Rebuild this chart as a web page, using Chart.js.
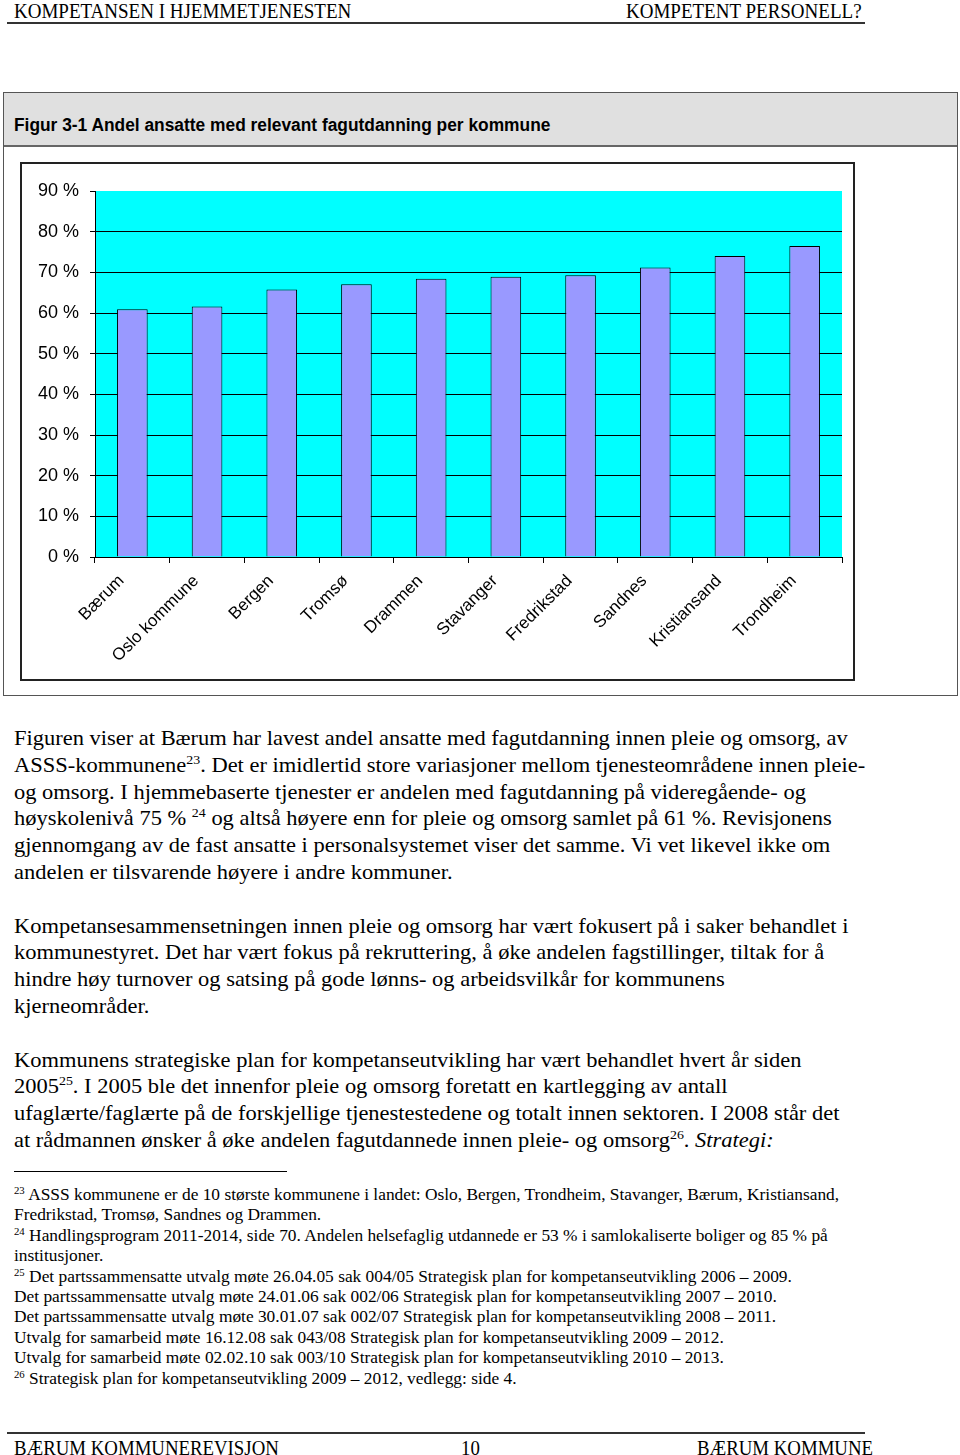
<!DOCTYPE html>
<html>
<head>
<meta charset="utf-8">
<script src="https://cdn.jsdelivr.net/npm/chart.js@4"></script>
<style>
body { margin: 0; width: 960px; height: 1455px; position: relative; overflow: hidden; background: #fff; color: #000; font-family: "Liberation Serif", "Times New Roman", serif; }
.abs { position: absolute; white-space: nowrap; transform-origin: left top; }
.hdr { font-size: 20px; line-height: 20px; }
.rule { position: absolute; left: 7px; width: 858px; height: 2px; background: #333; }
#frame { position: absolute; left: 3px; top: 92px; width: 955px; height: 604px; border: 1px solid #555; box-sizing: border-box; }
#figHead { position: absolute; left: 0; top: 0; right: 0; height: 52px; background: #e0e0e0; border-bottom: 2px solid #666; }
#figTitle { position: absolute; left: 10px; top: 22px; white-space: nowrap; font-family: "Liberation Sans", Arial, sans-serif; font-weight: bold; font-size: 18px; line-height: 20px; transform-origin: left top; transform: scaleX(0.964); }
#chartBox { position: absolute; left: 20px; top: 162px; width: 835px; height: 519px; border: 2px solid #222; box-sizing: border-box; background: #fff; }
#chart { position: absolute; left: 22px; top: 164px; }
.body { font-size: 21.5px; line-height: 26.8px; transform: scaleX(1.045); }
.notes { font-size: 16px; line-height: 20.4px; transform: scaleX(1.085); }
sup { font-size: 62%; line-height: 0; vertical-align: 0; position: relative; top: -0.6em; }
</style>
</head>
<body>

<div class="abs hdr" style="left:14px; top:1px; transform: scaleX(0.95);">KOMPETANSEN I HJEMMETJENESTEN</div>
<div class="abs hdr" style="left:626px; top:1px; transform: scaleX(0.95);">KOMPETENT PERSONELL?</div>
<div class="rule" style="top:22px;"></div>

<div id="frame">
  <div id="figHead"><div id="figTitle">Figur 3-1 Andel ansatte med relevant fagutdanning per kommune</div></div>
</div>
<div id="chartBox"></div>
<canvas id="chart" width="831" height="515"></canvas>

<div class="abs body" style="left:14px; top:725px;">
Figuren viser at Bærum har lavest andel ansatte med fagutdanning innen pleie og omsorg, av<br>
ASSS-kommunene<sup>23</sup>. Det er imidlertid store variasjoner mellom tjenesteområdene innen pleie-<br>
og omsorg. I hjemmebaserte tjenester er andelen med fagutdanning på videregående- og<br>
høyskolenivå 75 % <sup>24</sup> og altså høyere enn for pleie og omsorg samlet på 61 %. Revisjonens<br>
gjennomgang av de fast ansatte i personalsystemet viser det samme. Vi vet likevel ikke om<br>
andelen er tilsvarende høyere i andre kommuner.<br>
<br>
Kompetansesammensetningen innen pleie og omsorg har vært fokusert på i saker behandlet i<br>
kommunestyret. Det har vært fokus på rekruttering, å øke andelen fagstillinger, tiltak for å<br>
hindre høy turnover og satsing på gode lønns- og arbeidsvilkår for kommunens<br>
kjerneområder.<br>
<br>
Kommunens strategiske plan for kompetanseutvikling har vært behandlet hvert år siden<br>
2005<sup>25</sup>. I 2005 ble det innenfor pleie og omsorg foretatt en kartlegging av antall<br>
ufaglærte/faglærte på de forskjellige tjenestestedene og totalt innen sektoren. I 2008 står det<br>
at rådmannen ønsker å øke andelen fagutdannede innen pleie- og omsorg<sup>26</sup>. <i>Strategi:</i>
</div>

<div style="position:absolute; left:14px; top:1171px; width:273px; height:1px; background:#000;"></div>

<div class="abs notes" style="left:14px; top:1185px;">
<sup>23</sup> ASSS kommunene er de 10 største kommunene i landet: Oslo, Bergen, Trondheim, Stavanger, Bærum, Kristiansand,<br>
Fredrikstad, Tromsø, Sandnes og Drammen.<br>
<sup>24</sup> Handlingsprogram 2011-2014, side 70. Andelen helsefaglig utdannede er 53 % i samlokaliserte boliger og 85 % på<br>
institusjoner.<br>
<sup>25</sup> Det partssammensatte utvalg møte 26.04.05 sak 004/05 Strategisk plan for kompetanseutvikling 2006 – 2009.<br>
Det partssammensatte utvalg møte 24.01.06 sak 002/06 Strategisk plan for kompetanseutvikling 2007 – 2010.<br>
Det partssammensatte utvalg møte 30.01.07 sak 002/07 Strategisk plan for kompetanseutvikling 2008 – 2011.<br>
Utvalg for samarbeid møte 16.12.08 sak 043/08 Strategisk plan for kompetanseutvikling 2009 – 2012.<br>
Utvalg for samarbeid møte 02.02.10 sak 003/10 Strategisk plan for kompetanseutvikling 2010 – 2013.<br>
<sup>26</sup> Strategisk plan for kompetanseutvikling 2009 – 2012, vedlegg: side 4.
</div>

<div class="rule" style="top:1432px;"></div>
<div class="abs hdr" style="left:14px; top:1438px; transform: scaleX(0.94);">BÆRUM KOMMUNEREVISJON</div>
<div class="abs hdr" style="left:461px; top:1438px; transform: scaleX(0.94);">10</div>
<div class="abs hdr" style="left:697px; top:1438px; transform: scaleX(0.94);">BÆRUM KOMMUNE</div>

<script>
// data
const kommuner = ["Bærum", "Oslo kommune", "Bergen", "Tromsø", "Drammen", "Stavanger", "Fredrikstad", "Sandnes", "Kristiansand", "Trondheim"];
const andel = [60.9, 61.6, 65.8, 67.1, 68.4, 68.9, 69.3, 71.2, 74.0, 76.5];
const yMin = 0;
const yMax = 90;
const yStep = 10;

const axisFont = { family: "'Liberation Sans', Arial, sans-serif", size: 18 };

// cyan plot area like the Excel original
const plotBackground = {
    id: 'plotBackground',
    beforeDraw(chart) {
        const ctx = chart.ctx;
        const a = chart.chartArea;
        ctx.save();
        ctx.fillStyle = '#00FFFF';
        ctx.fillRect(a.left, a.top, a.right - a.left, a.bottom - a.top);
        ctx.restore();
    }
};

const chartCtx = document.getElementById("chart").getContext('2d');

new Chart(chartCtx, {
    type: 'bar',
    data: {
        labels: kommuner,
        datasets: [{
            data: andel,
            backgroundColor: '#9999FF',
            borderColor: '#000000',
            borderWidth: 1,
            barPercentage: 0.41,
            categoryPercentage: 1.0
        }]
    },
    options: {
        responsive: false,
        devicePixelRatio: 1,
        animation: false,
        layout: { padding: { top: 27, right: 11, left: 0, bottom: 0 } },
        plugins: { legend: { display: false }, tooltip: { enabled: false } },
        scales: {
            x: {
                grid: { offset: true, drawOnChartArea: false, drawTicks: true, tickLength: 6, color: '#000', lineWidth: 1 },
                border: { color: '#000', width: 1 },
                ticks: { color: '#000', font: { family: axisFont.family, size: 17 }, minRotation: 45, maxRotation: 45, autoSkip: false, padding: 8, labelOffset: -11 },
                afterFit(scale) { scale.height = 122; }
            },
            y: {
                min: yMin,
                max: yMax,
                grid: {
                    color: (c) => (c.tick && c.tick.value === yMax) ? 'rgba(0,0,0,0)' : '#000',
                    tickColor: '#000',
                    tickLength: 5,
                    lineWidth: 1
                },
                border: { color: '#000', width: 1 },
                ticks: {
                    stepSize: yStep,
                    color: '#000',
                    font: axisFont,
                    padding: 11,
                    callback: (v) => v + ' %'
                },
                afterFit(scale) { scale.width = 73; }
            }
        }
    },
    plugins: [plotBackground]
});
</script>
</body>
</html>
